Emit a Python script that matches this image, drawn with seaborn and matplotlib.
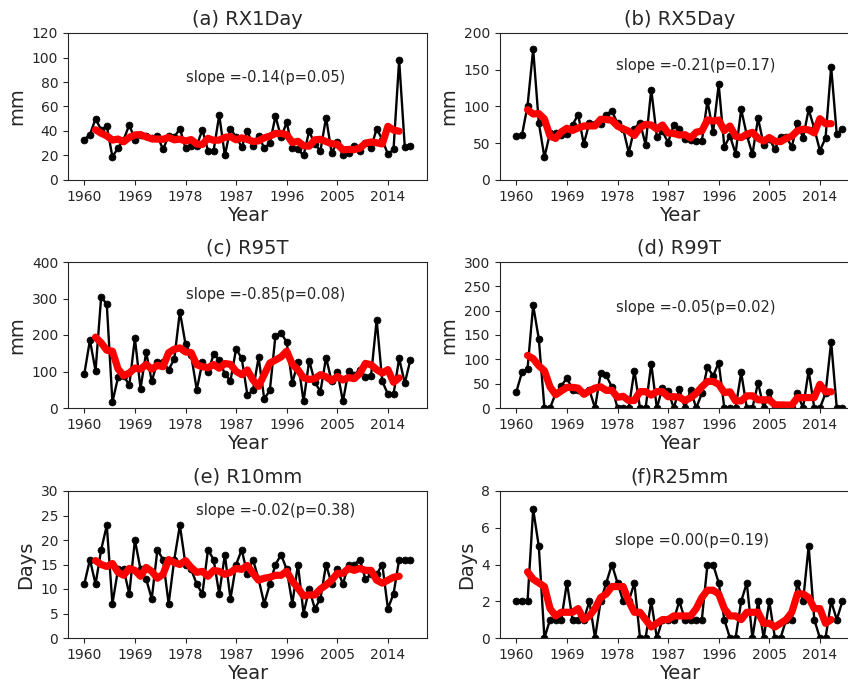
import numpy as np
import pandas as pd
import matplotlib
matplotlib.use("Agg")
import matplotlib.pyplot as plt
import seaborn as sns

years = list(range(1960, 2019))

rx1day = [33, 37, 50, 41, 44, 19, 26, 33, 45, 33,
          37, 36, 34, 36, 25, 36, 35, 42, 26, 28,
          28, 41, 24, 24, 53, 20, 42, 35, 27, 40,
          28, 36, 26, 30, 52, 35, 47, 26, 25, 20,
          40, 29, 24, 51, 22, 31, 20, 22, 28, 24,
          30, 26, 42, 33, 21, 25, 98, 27, 28]
rx5day = [60, 61, 101, 178, 78, 31, 64, 64, 61, 63,
          75, 89, 49, 78, 76, 76, 89, 94, 77, 70,
          37, 70, 78, 48, 123, 59, 66, 51, 75, 69,
          56, 55, 53, 53, 108, 65, 130, 45, 60, 36,
          96, 61, 35, 84, 48, 56, 42, 59, 59, 45,
          78, 57, 96, 70, 40, 57, 154, 62, 70]
r95t = [93, 186, 102, 305, 284, 16, 84, 89, 62, 191,
        53, 153, 73, 127, 127, 105, 134, 264, 175, 145,
        50, 125, 98, 147, 132, 93, 75, 162, 136, 36,
        48, 139, 25, 48, 198, 206, 180, 68, 127, 18,
        130, 71, 45, 138, 73, 100, 18, 102, 91, 105,
        86, 88, 241, 73, 38, 38, 136, 68, 132]
r99t = [33, 73, 81, 211, 142, 0, 0, 30, 45, 62,
        38, 37, 30, 37, 0, 71, 67, 43, 0, 0,
        0, 77, 0, 0, 91, 0, 42, 35, 0, 39,
        0, 37, 0, 30, 84, 66, 93, 0, 0, 0,
        73, 0, 0, 52, 0, 32, 0, 0, 0, 0,
        30, 0, 77, 0, 0, 30, 136, 0, 0]
r10mm = [11, 16, 11, 18, 23, 7, 14, 14, 9, 20,
         14, 12, 8, 18, 16, 7, 16, 23, 15, 14,
         11, 9, 18, 16, 9, 17, 8, 15, 18, 13,
         16, 12, 7, 11, 15, 17, 14, 7, 15, 5,
         10, 6, 8, 15, 11, 14, 11, 15, 15, 16,
         12, 13, 13, 15, 6, 9, 16, 16, 16]
r25mm = [2, 2, 2, 7, 5, 0, 1, 1, 1, 3,
         1, 1, 1, 2, 0, 2, 3, 4, 3, 2,
         2, 3, 0, 0, 2, 0, 1, 1, 1, 2,
         1, 1, 1, 1, 4, 4, 3, 1, 0, 0,
         2, 3, 0, 2, 0, 2, 0, 0, 1, 1,
         3, 2, 5, 1, 0, 0, 2, 1, 2]

titles = ["(a) RX1Day", "(b) RX5Day", "(c) R95T", "(d) R99T", "(e) R10mm", "(f)R25mm"]
ylabels = ["mm", "mm", "mm", "mm", "Days", "Days"]
slopes = ["slope =-0.14(p=0.05)", "slope =-0.21(p=0.17)", "slope =-0.85(p=0.08)",
          "slope =-0.05(p=0.02)", "slope =-0.02(p=0.38)", "slope =0.00(p=0.19)"]
ylims = [(0, 120), (0, 200), (0, 400), (0, 300), (0, 30), (0, 8)]
ysteps = [20, 50, 100, 50, 5, 2]
xticks = [1960, 1969, 1978, 1987, 1996, 2005, 2014]
series = [rx1day, rx5day, r95t, r99t, r10mm, r25mm]

# text positions (axes fraction)
text_pos = [(0.552, 0.694), (0.546, 0.782), (0.552, 0.78),
            (0.546, 0.69), (0.58, 0.864), (0.535, 0.66)]

sns.set_style("ticks")
plt.rcParams['font.family'] = ['DejaVu Sans']

W, H = 848, 684
fig = plt.figure(figsize=(W / 100, H / 100), dpi=100)

lefts = [68, 500]
tops = [33, 262, 491]
bottoms = [180, 408, 638]
axw = 358.7

for i in range(6):
    r, c = divmod(i, 2)
    l = lefts[c] / W
    b = 1 - bottoms[r] / H
    h = (bottoms[r] - tops[r]) / H
    ax = fig.add_axes([l, b, axw / W, h])
    df = pd.DataFrame({"Year": years, "val": series[i]})
    df["ma"] = df["val"].rolling(5, center=True).mean()
    sns.lineplot(data=df, x="Year", y="val", ax=ax, color="black", linewidth=1.7,
                 marker="o", markersize=5, markeredgecolor="black", markeredgewidth=0.5)
    sns.lineplot(data=df.dropna(), x="Year", y="ma", ax=ax, color="red", linewidth=5.2)
    ax.set_ylim(*ylims[i])
    ax.set_yticks(np.arange(ylims[i][0], ylims[i][1] + ysteps[i] / 2, ysteps[i]))
    ax.set_xticks(xticks)
    ax.set_xticklabels([str(t) for t in xticks])
    ax.tick_params(labelsize=10)
    ax.set_xlabel("Year", fontsize=14, labelpad=1.5)
    ax.set_ylabel(ylabels[i], fontsize=14)
    ax.set_title(titles[i], fontsize=14)
    ax.text(text_pos[i][0], text_pos[i][1], slopes[i], transform=ax.transAxes,
            ha="center", va="center", fontsize=10.5)

fig.savefig("out.png", dpi=100)
